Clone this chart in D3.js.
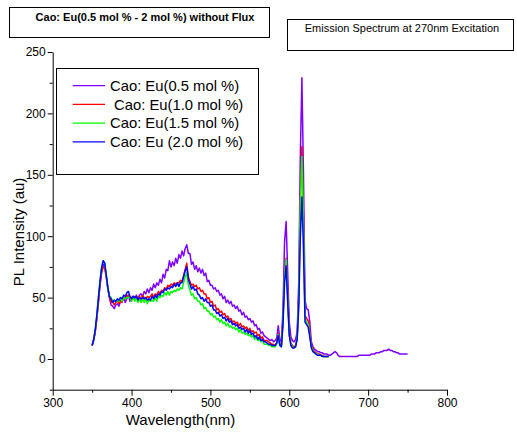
<!DOCTYPE html>
<html>
  <head>
    <title> Cao:Eu emission spectrum </title>
    <script src = "https://d3js.org/d3.v7.min.js" charset = "utf-8"></script>
    <style>
      body { margin: 0; background: #fff; }
      text { font-family: "Liberation Sans", Arial, sans-serif; fill: #000; }
    </style>
  </head>

  <body>
    <script>
      // sampling grid, nm (purple runs to 750, the others stop at 650)
      var wavelength = d3.range(350, 751, 2);

      var xTicks = [300, 400, 500, 600, 700, 800];
      var xMinor = [350, 450, 550, 650, 750];
      var yTicks = [0, 50, 100, 150, 200, 250];
      var yMinor = [-25, 25, 75, 125, 175, 225];

      var names = ["Cao: Eu(0.5 mol %)", " Cao: Eu(1.0 mol %)", "Cao: Eu(1.5 mol %)", "Cao: Eu (2.0 mol %)"];
      var colors = ["#8000ff", "#ff0000", "#00ff00", "#0000ff"];

      // values, one row = 10 points (20 nm)
      var eu05 = [
        11,16,23,34,47,61,72,77,75,67,   // 350
        57,50,44,43,41,44,45,43,47,49,   // 370
        50,46,49,52,47,50,51,48,52,49,   // 390
        52,53,51,55,53,57,54,58,56,61,   // 410
        58,62,60,65,62,69,66,73,72,80,   // 430
        75,79,76,82,78,85,82,88,84,90,   // 450
        93,86,86,77,79,73,76,71,74,70,   // 470
        73,68,70,63,64,60,60,57,58,55,   // 490
        56,52,53,49,51,46,48,45,47,43,   // 510
        44,41,43,39,40,36,38,34,35,32,   // 530
        33,30,31,27,28,24,25,21,22,19,   // 550
        18,17,16,15,16,14,15,17,27,16,   // 570
        14,40,95,112,70,30,18,15,14,16,  // 590
        22,62,165,229,150,48,41,40,30,14,// 610
        10,8,7,6,6,5,5,4,4,4,            // 630
        3,3,4,5,6,5,3,2,2,2,             // 650
        2,2,2,2,2,2,2,2,2,3,             // 670
        3,3,3,3,3,3,3,4,4,4,             // 690
        5,5,5,6,6,7,7,7,8,7,             // 710
        7,6,6,5,5,4,4,4,4,4,             // 730
        4                                // 750
      ];

      var eu10 = [
        11,15,22,33,46,60,70,75,74,66,
        57,50,46,47,44,46,48,45,48,46,
        50,49,52,51,50,48,51,50,51,48,
        51,48,52,50,48,51,50,51,53,50,
        53,52,55,53,56,55,58,57,60,59,
        61,60,62,61,62,62,64,63,68,73,
        78,67,63,60,61,59,60,57,58,55,
        56,53,53,49,50,46,47,43,44,40,
        41,38,39,36,37,34,35,32,33,30,
        31,29,30,27,29,26,27,25,26,23,
        25,22,23,21,22,19,20,17,18,15,
        15,15,14,13,12,12,11,13,21,12,
        11,32,70,82,52,22,13,11,10,11,
        18,50,130,173,115,35,33,31,22,11,
        8,6,5,4,4,3,3,2,2,2,
        2
      ];

      var eu15 = [
        11,16,24,36,50,64,75,80,78,68,
        57,51,50,47,48,47,48,47,50,47,
        50,49,50,50,51,47,50,47,50,46,
        49,46,49,46,49,45,48,47,48,47,
        50,47,51,50,52,51,54,52,55,52,
        55,54,56,55,57,56,58,57,62,67,
        70,60,56,52,53,49,50,47,47,44,
        45,41,42,39,39,36,37,34,35,32,
        33,30,32,29,30,27,29,26,27,25,
        26,24,25,22,24,21,22,20,21,19,
        20,18,19,16,18,15,16,14,15,12,
        12,12,11,11,10,10,10,12,20,11,
        10,30,68,81,50,20,12,10,9,10,
        17,48,125,165,110,33,30,28,20,10,
        7,5,4,4,3,3,2,2,2,2,
        2
      ];

      var eu20 = [
        11,16,24,36,50,63,74,80,78,68,
        58,51,49,46,48,47,49,48,50,49,
        52,51,54,55,51,49,51,50,51,48,
        50,49,50,49,50,48,49,48,51,49,
        52,50,53,52,55,54,57,56,58,57,
        59,58,61,59,62,59,62,62,67,72,
        75,65,61,57,59,56,57,53,52,49,
        50,47,49,46,46,43,44,40,40,37,
        38,35,36,33,34,31,33,30,31,28,
        29,27,28,25,26,24,25,22,24,21,
        23,20,21,18,19,16,18,15,16,14,
        14,13,12,12,11,11,11,13,19,11,
        10,28,62,76,46,19,11,9,9,10,
        16,42,100,132,90,30,28,26,18,9,
        6,5,4,3,3,3,2,2,2,2,
        2
      ];

      var series = [eu05, eu10, eu15, eu20];

      var width = 517;
      var height = 435;

      var svg = d3.select("body")
        .append("svg")
        .attr("width", width)
        .attr("height", height);

      var x = d3.scaleLinear().domain([300, 800]).range([52.7, 447]);
      var y = d3.scaleLinear().domain([-25, 250]).range([389.7, 52]);

      // spectra
      var line = d3.line()
        .x(function(d, i){ return x(wavelength[i]); })
        .y(function(d){ return y(d); });

      svg.append("g").selectAll("path")
        .data(series)
        .enter()
        .append("path")
        .attr("fill", "none")
        .attr("stroke", function(d, i){ return colors[i]; })
        .attr("stroke-width", 1.5)
        .attr("stroke-linejoin", "round")
        .attr("d", line);

      // axes
      svg.append("g")
        .attr("transform", "translate(0," + y(-25) + ")")
        .call(d3.axisBottom(x).tickValues(xTicks).tickSize(6).tickSizeOuter(0).tickPadding(3));
      svg.append("g")
        .attr("transform", "translate(0," + y(-25) + ")")
        .call(d3.axisBottom(x).tickValues(xMinor).tickSize(3).tickFormat(""))
        .select(".domain").remove();

      svg.append("g")
        .attr("transform", "translate(" + x(300) + ",0)")
        .call(d3.axisLeft(y).tickValues(yTicks).tickSize(5).tickSizeOuter(0).tickPadding(2));
      svg.append("g")
        .attr("transform", "translate(" + x(300) + ",0)")
        .call(d3.axisLeft(y).tickValues(yMinor).tickSize(3).tickFormat(""))
        .select(".domain").remove();

      svg.selectAll(".tick text").attr("font-size", 12).attr("font-family", null);
      svg.selectAll(".domain, .tick line").attr("stroke", "#000");

      svg.append("text")
        .attr("x", 180.5)
        .attr("y", 425)
        .attr("text-anchor", "middle")
        .attr("font-size", 15)
        .text("Wavelength(nm)");

      svg.append("text")
        .attr("transform", "translate(24,232) rotate(-90)")
        .attr("text-anchor", "middle")
        .attr("font-size", 15)
        .text("PL Intensity (au)");

      // legend
      var legend = svg.append("g");
      legend.append("rect")
        .attr("x", 56.5).attr("y", 68.5)
        .attr("width", 202).attr("height", 106)
        .attr("fill", "#fff").attr("stroke", "#000");

      var rows = legend.selectAll("g.row")
        .data(names)
        .enter()
        .append("g")
        .attr("class", "row")
        .attr("transform", function(d, i){ return "translate(0," + (85.7 + i * 18.7) + ")"; });

      rows.append("line")
        .attr("x1", 72.7).attr("x2", 105)
        .attr("stroke", function(d, i){ return colors[i]; })
        .attr("stroke-width", 1.3);

      rows.append("text")
        .attr("x", 110)
        .attr("dy", "0.35em")
        .attr("font-size", 14.8)
        .style("white-space", "pre")
        .text(function(d){ return d; });

      // title boxes
      svg.append("rect")
        .attr("x", 9.5).attr("y", 7.5)
        .attr("width", 260).attr("height", 30)
        .attr("fill", "none").attr("stroke", "#000");
      svg.append("text")
        .attr("x", 145).attr("y", 21)
        .attr("text-anchor", "middle")
        .attr("font-size", 11)
        .attr("font-weight", "bold")
        .text("Cao: Eu(0.5 mol % - 2 mol %) without Flux");

      svg.append("rect")
        .attr("x", 287.5).attr("y", 19.5)
        .attr("width", 226).attr("height", 31)
        .attr("fill", "none").attr("stroke", "#000");
      svg.append("text")
        .attr("x", 402).attr("y", 32)
        .attr("text-anchor", "middle")
        .attr("font-size", 11)
        .text("Emission Spectrum at 270nm Excitation");
    </script>
  </body>
</html>
